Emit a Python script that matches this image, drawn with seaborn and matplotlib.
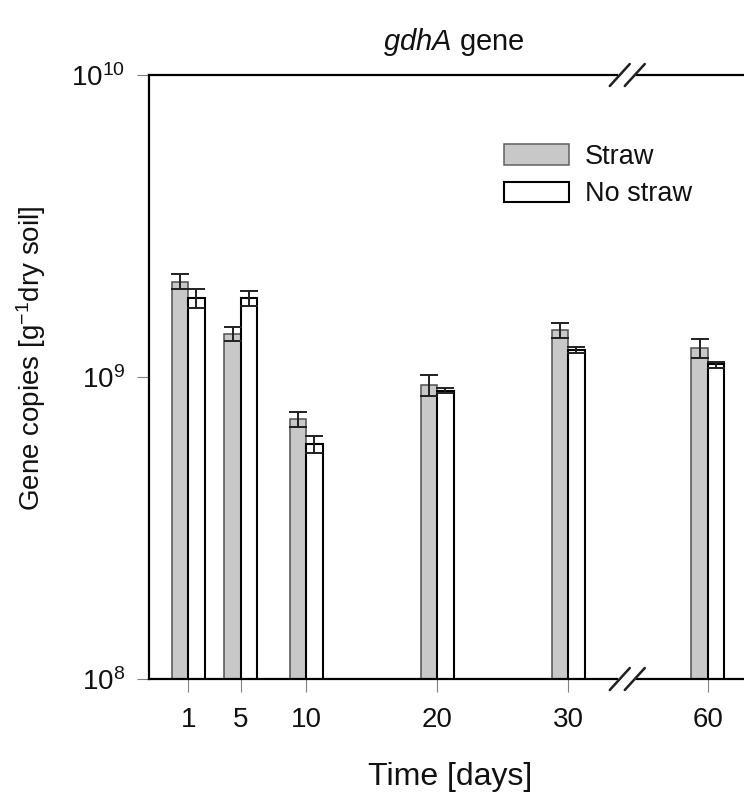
import numpy as np
import pandas as pd
import matplotlib
matplotlib.use("Agg")
import matplotlib.pyplot as plt
from matplotlib.patches import Patch
from matplotlib.lines import Line2D
import seaborn as sns

# ---------------- data ----------------
days = [1, 5, 10, 20, 30, 60]
day_labels = ["1", "5", "10", "20", "30", "60"]
straw = [2.07e9, 1.39e9, 7.24e8, 9.42e8, 1.43e9, 1.25e9]
straw_err = [1.2e8, 7.0e7, 4.1e7, 7.4e7, 8.0e7, 9.0e7]
no_straw = [1.82e9, 1.82e9, 6.0e8, 9.02e8, 1.23e9, 1.10e9]
no_straw_err = [1.3e8, 1.0e8, 3.9e7, 1.6e7, 3.0e7, 2.5e7]
groups = ["Straw", "No straw"]

# ---------------- layout (axis break between 30 and 60) ----------------
BREAK_AFTER = 30
POS_60 = 40.65
BREAK_POS = 34.51


def to_pos(d):
    return d if d <= BREAK_AFTER else POS_60 + (d - 60)


pos = [to_pos(d) for d in days]

df = pd.DataFrame({
    "pos": pos * 2,
    "value": straw + no_straw,
    "group": [groups[0]] * len(days) + [groups[1]] * len(days),
})

sns.set_style("ticks")
plt.rcParams["font.family"] = ["Liberation Sans", "DejaVu Sans"]
plt.rcParams["mathtext.fontset"] = "custom"
plt.rcParams["mathtext.rm"] = "Liberation Sans"
plt.rcParams["mathtext.it"] = "Liberation Sans:italic"
plt.rcParams["mathtext.bf"] = "Liberation Sans:bold"
plt.rcParams["text.color"] = "#111111"
plt.rcParams["xtick.labelcolor"] = "#111111"
plt.rcParams["ytick.labelcolor"] = "#111111"

W, H = 744, 796
fig = plt.figure(figsize=(W / 100, H / 100), dpi=100)
ax_left, ax_top, ax_bottom = 149, 75, 679
ax = fig.add_axes([ax_left / W, 1 - ax_bottom / H, 1 - ax_left / W, (ax_bottom - ax_top) / H])

BAR_W = 2.49 / 4.0  # relative to min spacing (4 days)
straw_col = "#c8c8c8"
sns.barplot(data=df, x="pos", y="value", hue="group", hue_order=groups,
            palette={groups[0]: straw_col, groups[1]: "white"},
            native_scale=True, log_scale=(False, True), width=BAR_W,
            dodge=True, legend=False, ax=ax, saturation=1, errorbar=None)

for patch in ax.containers[0]:
    patch.set_edgecolor("#505050")
    patch.set_linewidth(1.1)
for patch in ax.containers[1]:
    patch.set_edgecolor("black")
    patch.set_linewidth(1.5)

off = BAR_W * 4 / 4.0
p = np.array(pos, dtype=float)
ax.errorbar(p - off, straw, yerr=straw_err, fmt="none", ecolor="#202020",
            elinewidth=1.4, capsize=6.6, capthick=1.4, zorder=5)
ax.errorbar(p + off, no_straw, yerr=no_straw_err, fmt="none", ecolor="#202020",
            elinewidth=1.4, capsize=6.6, capthick=1.4, zorder=5)

ax.set_yscale("log")
ax.set_ylim(1e8, 1e10)
ax.set_yticks([1e8, 1e9, 1e10])
ax.yaxis.set_minor_locator(matplotlib.ticker.NullLocator())
px_per_day = 13.10
ax.set_xlim(1 + (ax_left - 188.3) / px_per_day, 1 + (W - 188.3) / px_per_day)
ax.set_xticks(pos)
ax.set_xticklabels(day_labels)
ax.set_xlabel("")
ax.set_ylabel("")

for s in ["left", "bottom", "top"]:
    ax.spines[s].set_visible(True)
    ax.spines[s].set_color("black")
    ax.spines[s].set_linewidth(1.6)
ax.spines["right"].set_visible(False)
ax.tick_params(axis="both", which="major", direction="out", length=9,
               width=0.8, color="#808080", labelsize=20)
ax.tick_params(axis="x", pad=11)
ax.tick_params(axis="y", pad=8)

# axis break marks on top and bottom spines
bx = ax.transData.transform((BREAK_POS, 1e9))[0]  # pixel x
for ypx in (ax_top, ax_bottom):
    yf = 1 - ypx / H
    fig.add_artist(Line2D([(bx - 7) / W, (bx + 7) / W], [yf, yf], color="white",
                          lw=3, transform=fig.transFigure, zorder=10))
    for cx in (bx - 7.5, bx + 7.5):
        fig.add_artist(Line2D([(cx - 10) / W, (cx + 10) / W],
                              [yf - 11 / H, yf + 11 / H], color="#202020", lw=1.8,
                              transform=fig.transFigure, zorder=11))

# legend
handles = [Patch(facecolor=straw_col, edgecolor="#606060", linewidth=1.1),
           Patch(facecolor="white", edgecolor="black", linewidth=1.5)]
fig.legend(handles, groups, loc="upper left", bbox_to_anchor=(504 / W, 1 - 144 / H),
           frameon=False, fontsize=19.5, handlelength=2.4, handleheight=0.8,
           handletextpad=0.6, labelspacing=0.42, borderpad=0, borderaxespad=0)

# texts
fig.text(454 / W, 1 - 50 / H, r"$\mathit{gdhA}$ gene", ha="center", va="baseline", fontsize=21)
fig.text(450.5 / W, 1 - 785 / H, "Time [days]", ha="center", va="baseline", fontsize=23)
fig.text(31 / W, 1 - 358 / H, r"Gene copies [g$^{-1}$dry soil]", ha="center", va="center",
         rotation=90, fontsize=20)

fig.savefig("out.png", dpi=100)
